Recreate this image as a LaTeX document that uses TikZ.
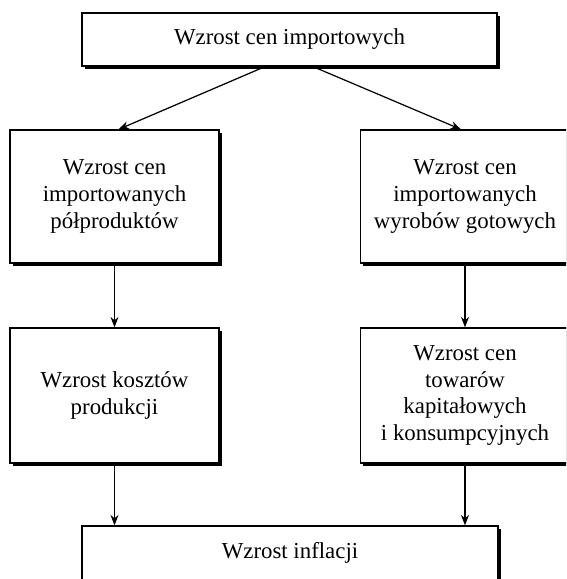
\documentclass[tikz,border=0pt]{standalone}
\usepackage{fontspec}
\setmainfont{Liberation Serif}
\usetikzlibrary{arrows.meta,shadows}
\tikzset{
  box/.style={draw=black,fill=white,line width=0.7pt,align=center,
    font=\fontsize{13}{15.3}\selectfont,
    drop shadow={shadow xshift=0.055cm,shadow yshift=-0.055cm,fill=black,opacity=1}},
  arr/.style={-{Stealth[length=2.1mm,width=1.6mm]},draw=black,line width=0.7pt}
}
\begin{document}
\begin{tikzpicture}[x=0.02cm,y=-0.02cm]
\clip (0,0) rectangle (566,579);
\useasboundingbox (0,0) rectangle (566,579);
\node[box,minimum width=8.3cm,minimum height=1.06cm] (top) at (289.5,39.5) {Wzrost cen importowych};
\node[box,minimum width=4.18cm,minimum height=2.66cm] (lmid) at (114.5,196.5) {Wzrost cen\\importowanych\\półproduktów};
\node[box,minimum width=4.18cm,minimum height=2.66cm] (rmid) at (465,196.5) {Wzrost cen\\importowanych\\wyrobów gotowych};
\node[box,minimum width=4.18cm,minimum height=2.7cm] (llow) at (114.5,395.5) {Wzrost kosztów\\produkcji};
\node[box,minimum width=4.18cm,minimum height=2.7cm] (rlow) at (465,395.5) {Wzrost cen\\towarów\\kapitałowych\\i konsumpcyjnych};
\node[box,minimum width=8.32cm,minimum height=1.08cm] (infl) at (290,553) {Wzrost inflacji};
\draw[arr] ([xshift=-0.49cm]top.south) -- ([xshift=0.08cm]lmid.north);
\draw[arr] ([xshift=0.47cm]top.south) -- ([xshift=-0.08cm]rmid.north);
\draw[arr] (lmid.south) -- (llow.north);
\draw[arr] (rmid.south) -- (rlow.north);
\draw[arr] (llow.south) -- (llow.south |- infl.north);
\draw[arr] (rlow.south) -- (rlow.south |- infl.north);
\end{tikzpicture}
\end{document}
